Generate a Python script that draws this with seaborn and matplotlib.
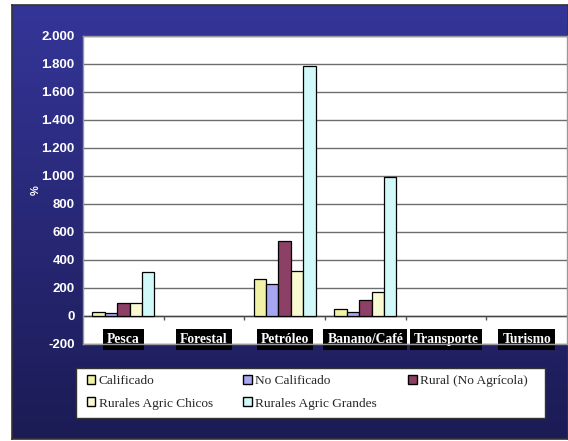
import matplotlib

matplotlib.use("Agg")
import matplotlib.pyplot as plt
import numpy as np
import pandas as pd
import seaborn as sns
from matplotlib.colors import LinearSegmentedColormap
from matplotlib.patches import Rectangle


SECTORES = ["Pesca", "Forestal", "Petróleo", "Banano/Café", "Transporte", "Turismo"]
SERIES = [
    "Calificado",
    "No Calificado",
    "Rural (No Agrícola)",
    "Rurales Agric Chicos",
    "Rurales Agric Grandes",
]
CALIFICADO = [30, 0, 262, 48, 0, 0]
NO_CALIFICADO = [18, 0, 230, 26, 0, 0]
RURAL = [90, 0, 535, 112, 0, 0]
AGRIC_CHICOS = [90, 0, 322, 172, 0, 0]
AGRIC_GRANDES = [315, 0, 1785, 990, 0, 0]
Y_TICKS = [-200, 0, 200, 400, 600, 800, 1000, 1200, 1400, 1600, 1800, 2000]

COLORS = ["#FFFF99", "#9999FF", "#993366", "#FFFFCC", "#CCFFFF"]

W, H = 568, 441


def fx(px):
    return px / W


def fy(py):
    return 1 - py / H


def main():
    sns.set_style("white")
    plt.rcParams["font.family"] = ["Liberation Sans", "DejaVu Sans"]

    df = pd.DataFrame(
        {
            "sector": SECTORES * 5,
            "serie": sum([[s] * len(SECTORES) for s in SERIES], []),
            "valor": CALIFICADO + NO_CALIFICADO + RURAL + AGRIC_CHICOS + AGRIC_GRANDES,
        }
    )

    fig = plt.figure(figsize=(W / 100, H / 100), dpi=100)
    fig.patch.set_facecolor("white")

    # gradient background panel
    bg = fig.add_axes([fx(12), fy(439), fx(568 - 12), (439 - 5) / H])
    cmap = LinearSegmentedColormap.from_list("bg", ["#353599", "#1b1b55"])
    bg.imshow(np.linspace(0, 1, 256).reshape(-1, 1), cmap=cmap, aspect="auto")
    bg.set_xticks([])
    bg.set_yticks([])
    for sp in bg.spines.values():
        sp.set_color("#333333")
        sp.set_linewidth(1.2)

    ax = fig.add_axes([fx(83), fy(344), fx(567 - 83), (344 - 35.6) / H])
    ax.set_facecolor("white")
    sns.barplot(
        data=df,
        x="sector",
        y="valor",
        hue="serie",
        hue_order=SERIES,
        palette=COLORS,
        edgecolor="black",
        linewidth=0.9,
        width=0.77,
        gap=0,
        ax=ax,
        zorder=3,
    )
    handles, labels = ax.get_legend_handles_labels()
    ax.get_legend().remove()
    # empty bars: no outline, like the original
    for p in ax.patches:
        if p.get_height() == 0:
            p.set_linewidth(0)

    ax.set_ylim(-200, 2000)
    ax.set_xlim(-0.5, 5.5)
    ax.set_yticks(Y_TICKS)
    ax.set_yticklabels([f"{v:,.0f}".replace(",", ".") for v in Y_TICKS])
    ax.yaxis.grid(True, color="#6e6e6e", linewidth=1)
    ax.set_axisbelow(True)
    ax.axhline(0, color="#444444", linewidth=1, zorder=2)
    ax.vlines(np.arange(0.5, 5.5, 1), -28, 0, color="#555555", linewidth=1, zorder=2)

    ax.tick_params(axis="y", colors="#888888", length=4, width=1, labelsize=9.5,
                   labelcolor="white", pad=2)
    for lbl in ax.get_yticklabels():
        lbl.set_fontweight("bold")

    ax.tick_params(axis="x", length=0, pad=-3.5)
    for lbl in ax.get_xticklabels():
        lbl.set_family(["Liberation Serif", "DejaVu Serif"])
        lbl.set_fontweight("bold")
        lbl.set_fontsize(9.8)
        lbl.set_color("white")
        lbl.set_verticalalignment("center")
        lbl.set_bbox(dict(facecolor="black", edgecolor="none", pad=2.8))

    ax.set_xlabel("")
    ax.set_ylabel("%", color="white", fontsize=8, fontweight="bold")
    ax.yaxis.set_label_coords(-0.088, 0.5)
    for sp in ax.spines.values():
        sp.set_color("#999999")
        sp.set_linewidth(1)

    # legend frame
    fig.patches.append(
        Rectangle((fx(76), fy(418)), fx(545 - 76), (418 - 368) / H,
                  transform=fig.transFigure, facecolor="white",
                  edgecolor="#333333", linewidth=1, zorder=5)
    )
    order = [0, 3, 1, 4, 2]
    leg = fig.legend(
        [handles[i] for i in order],
        [labels[i] for i in order],
        ncol=3,
        loc="upper left",
        bbox_to_anchor=(fx(76), fy(364)),
        frameon=False,
        prop={"family": ["Liberation Serif", "DejaVu Serif"], "size": 9.6},
        handlelength=0.65,
        handleheight=0.65,
        handletextpad=0.25,
        columnspacing=2.3,
        labelspacing=0.8,
        borderpad=0.3,
    )
    leg.set_zorder(6)
    for h in leg.legend_handles:
        h.set_edgecolor("black")
        h.set_linewidth(1)

    fig.savefig("out.png", dpi=100)
    plt.close(fig)


if __name__ == "__main__":
    main()
